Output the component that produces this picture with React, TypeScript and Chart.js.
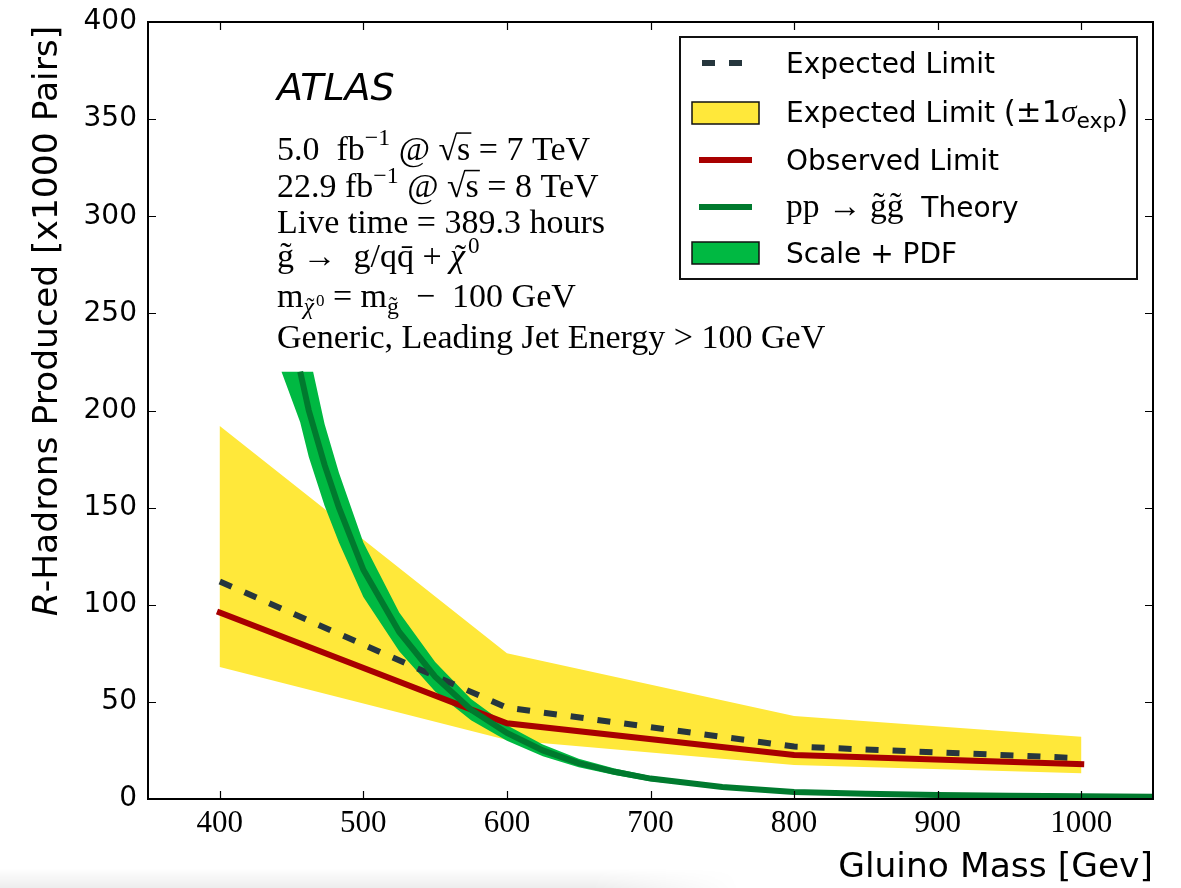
import React, { useEffect, useRef } from 'react';
import { Chart, registerables } from 'chart.js';

Chart.register(...registerables);

// ---------------- data ----------------
const massTicks = [400, 500, 600, 700, 800, 900, 1000];
const countTicks = [0, 50, 100, 150, 200, 250, 300, 350, 400];

const limitMass = [400, 600, 800, 1000];
const expectedLimit = [112, 47, 27, 21];
const observedLimit = [96, 39, 22.7, 17.9];
const expectedUpper = [192, 75, 42.7, 32];
const expectedLower = [68, 30.4, 17.5, 13.2];

const theoryMass = [456, 462, 473, 483, 500, 525, 550, 575, 600, 625, 650, 675, 700, 750, 800, 850, 900, 950, 1000, 1050];
const theoryValue = [220, 200, 172, 150, 118, 86, 63, 46, 34, 25, 18.5, 14, 10.5, 6.2, 3.6, 2.7, 2.1, 1.7, 1.4, 1.2];

const scaleUpperMass = [465, 473, 483, 500, 525, 550, 575, 600, 625, 650, 675, 700, 750, 800, 850, 900, 950, 1000, 1050];
const scaleUpperValue = [220, 193, 168, 132, 96, 70.5, 51.5, 38, 28, 20.7, 15.7, 11.8, 6.9, 4.0, 3.0, 2.35, 1.9, 1.57, 1.34];
const scaleLowerMass = [443, 456, 462, 473, 483, 500, 525, 550, 575, 600, 625, 650, 675, 700, 750, 800, 850, 900, 950, 1000, 1050];
const scaleLowerValue = [220, 194, 176, 151, 132, 104, 76, 55.4, 40.5, 30, 22, 16.3, 12.3, 9.2, 5.5, 3.2, 2.4, 1.85, 1.5, 1.23, 1.06];

// ---------------- style ----------------
const SANS = '"DejaVu Sans", sans-serif';
const SERIF = '"Liberation Serif", serif';
const YELLOW = '#FFE83A';
const GREEN_BAND = '#00B942';
const GREEN_LINE = '#007A2E';
const RED = '#A80000';
const DASH = '#26363D';

const pts = (xs: number[], ys: number[]) => xs.map((x, i) => ({ x, y: ys[i] }));
const polygon = (xu: number[], yu: number[], xl: number[], yl: number[]) => [
  ...pts(xu, yu),
  ...pts(xl, yl).reverse(),
];

type Run = {
  t: string;
  f?: 'serif' | 'serifI' | 'sans' | 'sansI';
  sc?: number;
  rise?: number;
  over?: boolean;
  tilde?: boolean;
  dx?: number;
};

function fontOf(f: Run['f'], s: number) {
  switch (f) {
    case 'serifI':
      return `italic ${s}px ${SERIF}`;
    case 'sans':
      return `${s}px ${SANS}`;
    case 'sansI':
      return `italic ${s}px ${SANS}`;
    default:
      return `${s}px ${SERIF}`;
  }
}

function drawRuns(ctx: CanvasRenderingContext2D, runs: Run[], x: number, y: number, size: number, def: Run['f'] = 'serif') {
  let cx = x;
  for (const r of runs) {
    const s = size * (r.sc ?? 1);
    const f = r.f ?? def;
    ctx.font = fontOf(f, s);
    cx += r.dx ?? 0;
    const yy = y - (r.rise ?? 0) * size;
    ctx.fillText(r.t, cx, yy);
    const w = ctx.measureText(r.t).width;
    if (r.over) {
      ctx.fillRect(cx - 1, yy - 0.8 * s, w + 2, Math.max(1.3, s * 0.045));
    }
    if (r.tilde) {
      ctx.font = fontOf('serif', s);
      const tw = ctx.measureText('\u02DC').width;
      const shift = f === 'serifI' ? 0.08 * s : 0;
      ctx.fillText('\u02DC', cx + w / 2 - tw / 2 + shift, yy + 0.02 * s);
    }
    cx += w;
  }
  return cx - x;
}

const decor = {
  id: 'decor',
  afterDatasetsDraw(chart: any) {
    const { ctx, chartArea: a, scales } = chart;
    const x = scales.x;
    const y = scales.y;
    ctx.save();
    ctx.strokeStyle = '#000';
    ctx.lineWidth = 2;
    ctx.strokeRect(a.left, a.top, a.right - a.left, a.bottom - a.top);
    ctx.lineWidth = 1.2;
    ctx.beginPath();
    for (const v of massTicks) {
      const px = Math.round(x.getPixelForValue(v)) + 0.5;
      ctx.moveTo(px, a.bottom);
      ctx.lineTo(px, a.bottom - 8);
      ctx.moveTo(px, a.top);
      ctx.lineTo(px, a.top + 8);
    }
    for (const v of countTicks) {
      const py = Math.round(y.getPixelForValue(v)) + 0.5;
      ctx.moveTo(a.left, py);
      ctx.lineTo(a.left + 8, py);
      ctx.moveTo(a.right, py);
      ctx.lineTo(a.right - 8, py);
    }
    ctx.stroke();
    ctx.restore();
  },
  afterDraw(chart: any) {
    const { ctx, chartArea: a } = chart;
    ctx.save();
    ctx.fillStyle = '#000';
    ctx.textBaseline = 'alphabetic';
    ctx.textAlign = 'left';

    // ---- annotation block ----
    const tx = a.left + 129;
    ctx.font = `italic 38px ${SANS}`;
    ctx.fillText('ATLAS', tx, a.top + 77.5);
    const S = 34;
    const lines: { dy: number; runs: Run[] }[] = [
      {
        dy: 137.5,
        runs: [
          { t: '5.0  fb' },
          { t: '\u22121', sc: 0.7, rise: 0.42 },
          { t: ' @ ' },
          { t: '\u221A' },
          { t: 's', over: true },
          { t: ' = 7 TeV' },
        ],
      },
      {
        dy: 175,
        runs: [
          { t: '22.9 fb' },
          { t: '\u22121', sc: 0.7, rise: 0.42 },
          { t: ' @ ' },
          { t: '\u221A' },
          { t: 's', over: true },
          { t: ' = 8 TeV' },
        ],
      },
      { dy: 211, runs: [{ t: 'Live time = 389.3 hours' }] },
      {
        dy: 245,
        runs: [
          { t: 'g\u0303 \u2192  g/q' },
          { t: 'q\u0304' },
          { t: ' + ' },
          { t: '\u03C7', f: 'serifI', tilde: true },
          { t: '0', sc: 0.68, rise: 0.42, dx: 3 },
        ],
      },
      {
        dy: 285,
        runs: [
          { t: 'm' },
          { t: '\u03C7', f: 'serifI', sc: 0.7, rise: -0.2, tilde: true },
          { t: '0', sc: 0.5, rise: 0.02, dx: 2 },
          { t: ' = m' },
          { t: 'g\u0303', sc: 0.7, rise: -0.2 },
          { t: '  \u2212  100 GeV' },
        ],
      },
      { dy: 325.5, runs: [{ t: 'Generic, Leading Jet Energy > 100 GeV' }] },
    ];
    for (const l of lines) drawRuns(ctx, l.runs, tx, a.top + l.dy, S);

    // ---- legend ----
    const bw = 457;
    const bh = 242;
    const bx = a.right - 16 - bw;
    const by = a.top + 15;
    ctx.fillStyle = '#fff';
    ctx.fillRect(bx, by, bw, bh);
    ctx.strokeStyle = '#111';
    ctx.lineWidth = 2;
    ctx.strokeRect(bx, by, bw, bh);
    const rows = [26, 75, 123, 170, 216];
    const textX = bx + 106;
    const LS = 28;
    const base = (cy: number) => by + cy + 10;

    // row 1: dashed
    ctx.save();
    ctx.strokeStyle = DASH;
    ctx.lineWidth = 6;
    ctx.setLineDash([13, 14]);
    ctx.beginPath();
    ctx.moveTo(bx + 22, by + rows[0]);
    ctx.lineTo(bx + 63, by + rows[0]);
    ctx.stroke();
    ctx.restore();
    ctx.fillStyle = '#000';
    drawRuns(ctx, [{ t: 'Expected Limit' }], textX, base(rows[0]), LS, 'sans');

    // row 2: yellow patch
    ctx.fillStyle = YELLOW;
    ctx.fillRect(bx + 12, by + rows[1] - 10, 67, 22);
    ctx.strokeStyle = '#111';
    ctx.lineWidth = 1.5;
    ctx.strokeRect(bx + 12, by + rows[1] - 10, 67, 22);
    ctx.fillStyle = '#000';
    drawRuns(
      ctx,
      [
        { t: 'Expected Limit ', f: 'sans' },
        { t: '(\u00B11', sc: 1.1 },
        { t: '\u03C3', f: 'serifI', sc: 1.1 },
        { t: 'exp', sc: 0.78, rise: -0.2 },
        { t: ')', sc: 1.1 },
      ],
      textX,
      base(rows[1]),
      LS,
      'sans'
    );

    // row 3: red line
    ctx.fillStyle = RED;
    ctx.fillRect(bx + 19, by + rows[2] - 3, 53, 6);
    ctx.fillStyle = '#000';
    drawRuns(ctx, [{ t: 'Observed Limit' }], textX, base(rows[2]), LS, 'sans');

    // row 4: green line
    ctx.fillStyle = GREEN_LINE;
    ctx.fillRect(bx + 19, by + rows[3] - 3, 53, 6);
    ctx.fillStyle = '#000';
    drawRuns(
      ctx,
      [
        { t: 'pp \u2192 g\u0303g\u0303', f: 'serif', sc: 1.2 },
        { t: '  Theory', f: 'sans' },
      ],
      textX,
      base(rows[3]),
      LS,
      'sans'
    );

    // row 5: green patch
    ctx.fillStyle = GREEN_BAND;
    ctx.fillRect(bx + 12, by + rows[4] - 11, 67, 22);
    ctx.strokeStyle = '#111';
    ctx.lineWidth = 1.5;
    ctx.strokeRect(bx + 12, by + rows[4] - 11, 67, 22);
    ctx.fillStyle = '#000';
    drawRuns(ctx, [{ t: 'Scale + PDF' }], textX, base(rows[4]), LS, 'sans');

    // ---- axis titles ----
    ctx.fillStyle = '#000';
    ctx.font = `34.5px ${SANS}`;
    ctx.textAlign = 'right';
    ctx.fillText('Gluino Mass [Gev]', a.right, 877);

    ctx.textAlign = 'left';
    const TS = 34.5;
    ctx.font = `italic ${TS}px ${SANS}`;
    const wR = ctx.measureText('R').width;
    ctx.font = `${TS}px ${SANS}`;
    const rest = '-Hadrons Produced [x1000 Pairs]';
    const wRest = ctx.measureText(rest).width;
    const total = wR + wRest;
    const cy = 321;
    ctx.save();
    ctx.translate(57, cy + total / 2);
    ctx.rotate(-Math.PI / 2);
    ctx.font = `italic ${TS}px ${SANS}`;
    ctx.fillText('R', 0, 0);
    ctx.font = `${TS}px ${SANS}`;
    ctx.fillText(rest, wR, 0);
    ctx.restore();

    ctx.restore();
  },
};

export default function App() {
  const ref = useRef<HTMLCanvasElement | null>(null);

  useEffect(() => {
    if (!ref.current) return;
    const chart = new Chart(ref.current, {
      type: 'line',
      data: {
        datasets: [
          {
            label: 'Expected Limit (±1σ)',
            data: polygon(limitMass, expectedUpper, limitMass, expectedLower),
            fill: 'shape',
            backgroundColor: YELLOW,
            borderColor: 'transparent',
            borderWidth: 0,
            pointRadius: 0,
            tension: 0,
            order: 5,
          } as any,
          {
            label: 'Scale + PDF',
            data: polygon(scaleUpperMass, scaleUpperValue, scaleLowerMass, scaleLowerValue),
            fill: 'shape',
            backgroundColor: GREEN_BAND,
            borderColor: 'transparent',
            borderWidth: 0,
            pointRadius: 0,
            tension: 0,
            order: 4,
          } as any,
          {
            label: 'Expected Limit',
            data: pts(limitMass, expectedLimit),
            fill: false,
            borderColor: DASH,
            borderWidth: 6,
            borderDash: [13, 14],
            borderCapStyle: 'butt',
            pointRadius: 0,
            tension: 0,
            order: 3,
          },
          {
            label: 'Observed Limit',
            data: pts(limitMass, observedLimit),
            fill: false,
            borderColor: RED,
            borderWidth: 6,
            borderCapStyle: 'square',
            pointRadius: 0,
            tension: 0,
            order: 2,
          },
          {
            label: 'Theory',
            data: pts(theoryMass, theoryValue),
            fill: false,
            borderColor: GREEN_LINE,
            borderWidth: 6,
            borderCapStyle: 'butt',
            pointRadius: 0,
            tension: 0,
            order: 1,
          },
        ],
      },
      options: {
        responsive: false,
        animation: false,
        devicePixelRatio: 1,
        events: [],
        layout: { padding: { top: 22, right: 28, left: 0, bottom: 0 } },
        plugins: { legend: { display: false }, tooltip: { enabled: false }, title: { display: false } },
        scales: {
          x: {
            type: 'linear',
            min: 350,
            max: 1050,
            grid: { display: false, drawTicks: false },
            border: { display: false },
            ticks: {
              font: { family: SERIF, size: 31 },
              color: '#000',
              padding: 6,
              maxRotation: 0,
              autoSkip: false,
              callback: (v: any) => String(v),
            },
            afterBuildTicks: (s: any) => {
              s.ticks = massTicks.map((v) => ({ value: v }));
            },
            afterFit: (s: any) => {
              s.height = 89;
            },
          },
          y: {
            type: 'linear',
            min: 0,
            max: 400,
            grid: { display: false, drawTicks: false },
            border: { display: false },
            ticks: {
              font: { family: SANS, size: 28, lineHeight: 0.7 },
              color: '#000',
              padding: 11,
              autoSkip: false,
              callback: (v: any) => String(v),
            },
            afterBuildTicks: (s: any) => {
              s.ticks = countTicks.map((v) => ({ value: v }));
            },
            afterFit: (s: any) => {
              s.width = 148;
            },
          },
        },
      },
      plugins: [decor],
    } as any);
    return () => chart.destroy();
  }, []);

  return (
    <div style={{ position: 'fixed', left: 0, top: 0, width: 1181, height: 888, background: '#fff' }}>
      <div
        style={{
          position: 'absolute',
          left: 0,
          top: 868,
          width: 740,
          height: 20,
          background: 'linear-gradient(to bottom, rgba(0,0,0,0), rgba(0,0,0,0.07))',
          WebkitMaskImage: 'linear-gradient(to right, black 80%, transparent)',
          maskImage: 'linear-gradient(to right, black 80%, transparent)',
        }}
      />
      <canvas
        ref={ref}
        width={1181}
        height={888}
        style={{ position: 'absolute', left: 0, top: 0, display: 'block', width: 1181, height: 888 }}
      />
    </div>
  );
}
